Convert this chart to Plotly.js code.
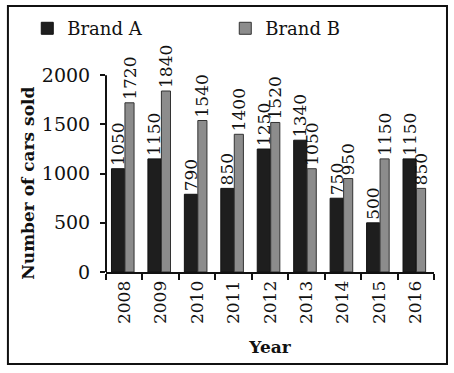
<!DOCTYPE html>
<html>
<head>
<meta charset="utf-8">
<script src="https://cdn.plot.ly/plotly-3.0.1.min.js"></script>
<style>html,body{margin:0;padding:0;background:#fff;}#chart{width:454px;height:373px;}</style>
</head>
<body>
<div id="chart"></div>
<script>
const years = ['2008','2009','2010','2011','2012','2013','2014','2015','2016'];
const brandA = [1050, 1150, 790, 850, 1250, 1340, 750, 500, 1150];
const brandB = [1720, 1840, 1540, 1400, 1520, 1050, 950, 1150, 850];
const yTicks = [0, 500, 1000, 1500, 2000];
const yAxisTop = 2000;
const yTitle = 'Number of cars sold';
const xTitle = 'Year';

const serif = 'DejaVu Serif, Liberation Serif, serif';

const traceA = {
  type: 'bar', name: 'Brand A', x: years, y: brandA,
  offset: -0.35, width: 0.36,
  marker: {color: '#1e1e1e', line: {color: '#111', width: 1}},
  text: brandA.map(String), textposition: 'outside', textangle: -90,
  constraintext: 'none', cliponaxis: false,
  textfont: {family: serif, size: 17, color: '#111'}
};
const traceB = {
  type: 'bar', name: 'Brand B', x: years, y: brandB,
  offset: 0.02, width: 0.25,
  marker: {color: '#8c8c8c', line: {color: '#333', width: 1}},
  text: brandB.map(String), textposition: 'outside', textangle: -90,
  constraintext: 'none', cliponaxis: false,
  textfont: {family: serif, size: 17, color: '#111'}
};

const layout = {
  width: 454, height: 373,
  margin: {l: 106, r: 20, t: 31, b: 101, autoexpand: false},
  paper_bgcolor: '#fff', plot_bgcolor: 'rgba(0,0,0,0)',
  font: {family: serif, color: '#111'},
  barmode: 'group',
  showlegend: true,
  legend: {
    orientation: 'h', x: -0.24, y: 1.01, xanchor: 'left', yanchor: 'middle',
    entrywidth: 153, entrywidthmode: 'pixels',
    bgcolor: 'rgba(0,0,0,0)',
    font: {family: serif, size: 18, color: '#111'}
  },
  xaxis: {
    type: 'category', showline: true, linecolor: '#111', linewidth: 2,
    ticks: 'outside', tickson: 'boundaries', ticklen: 6, tickcolor: '#111', tickwidth: 2,
    tickangle: -90, tickfont: {family: serif, size: 17, color: '#111'},
    showgrid: false, zeroline: false,
    title: {text: '<b>' + xTitle + '</b>', font: {family: serif, size: 17, color: '#111'}, standoff: 18}
  },
  yaxis: {
    range: [0, 2450], tickvals: yTicks, showline: false,
    ticks: 'outside', ticklen: 5, tickcolor: '#111', tickwidth: 2,
    ticklabelstandoff: 6,
    tickfont: {family: serif, size: 19, color: '#111'},
    showgrid: false, zeroline: false
  },
  annotations: [{
    text: '<b>' + yTitle + '</b>', xref: 'paper', yref: 'paper',
    x: -0.238, y: 0.37, xanchor: 'center', yanchor: 'middle',
    textangle: -90, showarrow: false,
    font: {family: serif, size: 17, color: '#111'}
  }],
  shapes: [
    {
      type: 'line', xref: 'paper', yref: 'y', x0: 0, x1: 0, y0: 0, y1: yAxisTop,
      line: {color: '#111', width: 2}
    },
    {
      type: 'rect', xref: 'paper', yref: 'paper',
      x0: -0.299, x1: 1.0396, y0: -0.3817, y1: 1.1037,
      line: {color: '#111', width: 2}, fillcolor: 'rgba(0,0,0,0)', layer: 'below'
    }
  ]
};

Plotly.newPlot('chart', [traceA, traceB], layout, {displayModeBar: false, staticPlot: true});
</script>
</body>
</html>
